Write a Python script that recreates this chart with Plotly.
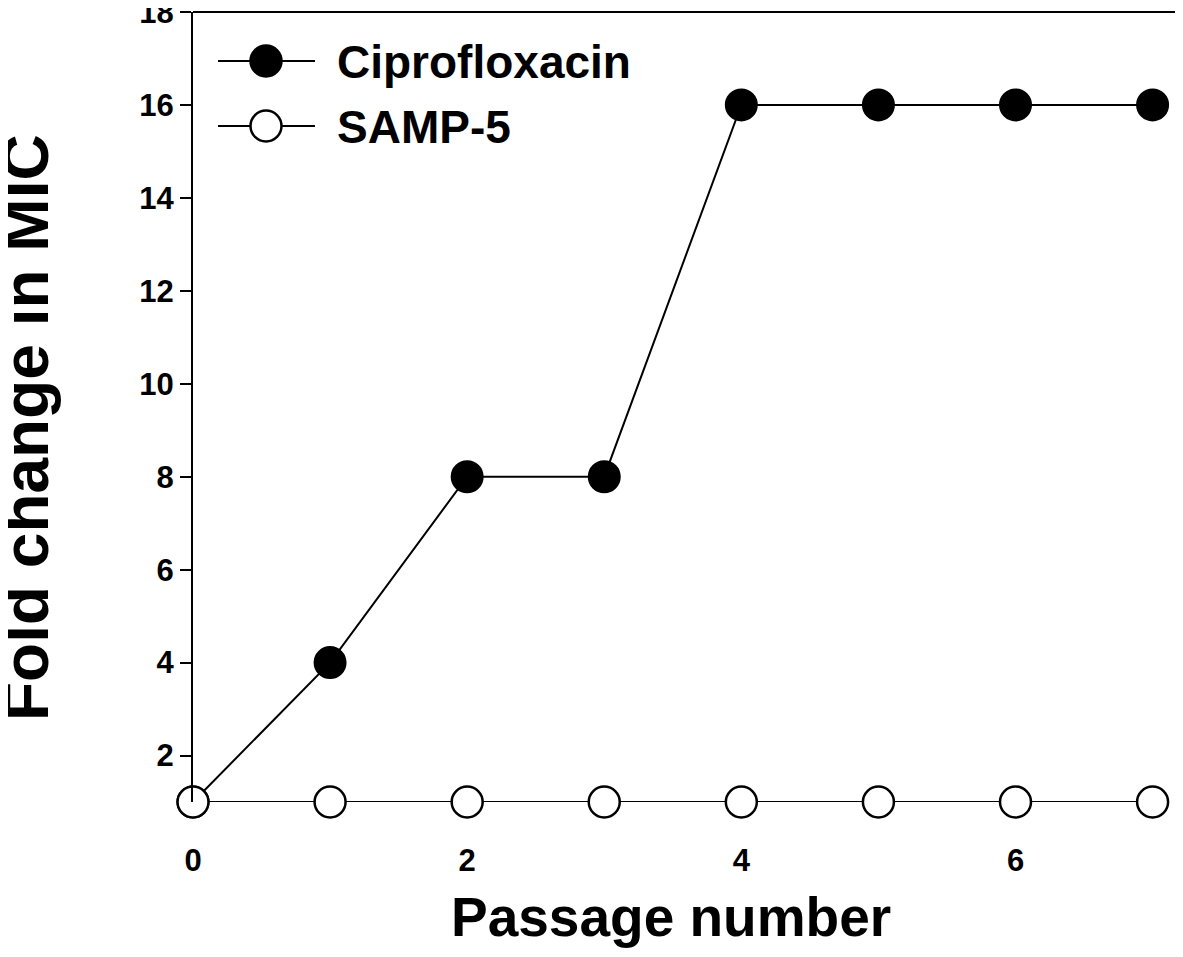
import plotly.graph_objects as go

passage = [0, 1, 2, 3, 4, 5, 6, 7]
cipro = [1, 4, 8, 8, 16, 16, 16, 16]
samp5 = [1, 1, 1, 1, 1, 1, 1, 1]
series_names = ["Ciprofloxacin", "SAMP-5"]
x_ticks = [0, 2, 4, 6]
y_ticks = [2, 4, 6, 8, 10, 12, 14, 16, 18]

FONT = "Liberation Sans, Arial, sans-serif"
OFF = 8  # default page body margin
W, H = 1183 - OFF, 957 - OFF
# plot area in page pixels: left 193, right 1180, top 12, bottom 802
L = 193 - OFF
T = 12 - OFF
R = W - (1180 - OFF)
B = H - (802 - OFF)
pw, ph = W - L - R, H - T - B

def px_x(p):
    return (p - OFF - L) / pw

def px_y(p):
    return (H - B - (p - OFF)) / ph

fig = go.Figure()
fig.add_trace(go.Scatter(
    x=passage, y=cipro, mode="lines+markers", name=series_names[0],
    line=dict(color="black", width=2),
    marker=dict(symbol="circle", size=31, color="black", line=dict(color="black", width=2)),
    cliponaxis=False, showlegend=False))
fig.add_trace(go.Scatter(
    x=passage, y=samp5, mode="lines+markers", name=series_names[1],
    line=dict(color="black", width=2),
    marker=dict(symbol="circle", size=31, color="white", line=dict(color="black", width=2.5)),
    cliponaxis=False, showlegend=False))

shapes = []
annotations = []
# frame top and right
shapes.append(dict(type="line", xref="paper", yref="paper", x0=0, x1=1, y0=1, y1=1,
                   line=dict(color="black", width=2), layer="below"))
shapes.append(dict(type="line", xref="paper", yref="paper", x0=1, x1=1, y0=0, y1=1,
                   line=dict(color="black", width=2), layer="below"))

# legend
leg_rows = [(61, "black"), (126, "white")]
for (yy, fill), name in zip(leg_rows, series_names):
    shapes.append(dict(type="line", xref="paper", yref="paper",
                       x0=px_x(218), x1=px_x(315), y0=px_y(yy), y1=px_y(yy),
                       line=dict(color="black", width=2)))
    shapes.append(dict(type="circle", xref="paper", yref="paper",
                       xsizemode="pixel", ysizemode="pixel",
                       xanchor=px_x(266), yanchor=px_y(yy),
                       x0=-15.5, x1=15.5, y0=-15.5, y1=15.5,
                       fillcolor=fill, line=dict(color="black", width=2.5)))
    annotations.append(dict(xref="paper", yref="paper", x=px_x(335), y=px_y(yy + 1),
                            xanchor="left", yanchor="middle", showarrow=False,
                            text=name, font=dict(family=FONT, size=46, color="black", weight="bold")))

# axis titles
annotations.append(dict(xref="paper", yref="paper", x=px_x(26), y=px_y(428),
                        xanchor="center", yanchor="middle", showarrow=False, textangle=-90,
                        text="Fold change in MIC",
                        font=dict(family=FONT, size=64, color="black", weight="bold")))
annotations.append(dict(xref="paper", yref="paper", x=px_x(671), y=px_y(917),
                        xanchor="center", yanchor="middle", showarrow=False,
                        text="Passage number",
                        font=dict(family=FONT, size=55, color="black", weight="bold")))

fig.update_layout(
    width=W, height=H,
    margin=dict(l=L, r=R, t=T, b=B, pad=0, autoexpand=False),
    paper_bgcolor="white", plot_bgcolor="white",
    showlegend=False,
    shapes=shapes, annotations=annotations,
    xaxis=dict(range=[0, 7.2], tickvals=x_ticks, showline=False, showgrid=False, zeroline=False,
               automargin=False,
               ticks="outside", ticklen=31, tickcolor="rgba(0,0,0,0)",
               tickfont=dict(family=FONT, size=31, color="black", weight="bold")),
    yaxis=dict(range=[1, 18], tickvals=y_ticks, showline=True, linecolor="black", linewidth=2,
               showgrid=False, zeroline=False, ticklabeloverflow="allow", automargin=False,
               ticks="outside", ticklen=11, tickwidth=2, tickcolor="black",
               tickfont=dict(family=FONT, size=31, color="black", weight="bold")),
)

fig.write_html("out.html")
